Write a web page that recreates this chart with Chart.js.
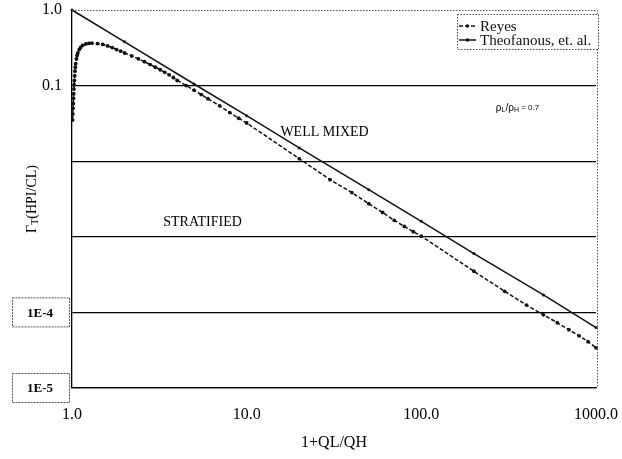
<!DOCTYPE html>
<html lang="en">
<head>
  <meta charset="UTF-8" />
  <title>Reyes vs Theofanous</title>
  <script src="https://cdn.jsdelivr.net/npm/chart.js"></script>
  <style>
    body { margin: 0; background: #fff; }
    #wrap { width: 622px; height: 459px; }
  </style>
</head>
<body>
<div id="wrap"><canvas id="chart" width="622" height="459"></canvas></div>

<script>
  // data (log-log)
  const reyesX = [1.008, 1.011, 1.014, 1.017, 1.02, 1.023, 1.026, 1.029, 1.032, 1.036, 1.04, 1.045, 1.05,
    1.06, 1.07, 1.08, 1.1, 1.12, 1.15, 1.2, 1.25, 1.3, 1.4, 1.5, 1.6, 1.7, 1.8, 1.9, 2.0,
    2.2, 2.4, 2.6, 2.8, 3.0, 3.2, 3.4, 3.6, 3.8, 4.0, 4.5, 5, 5.5, 6, 7, 8, 9, 10,
    20, 30, 40, 50, 60, 70, 80, 90, 100, 200, 300, 400, 500, 600, 700, 800, 900, 1000];
  const reyesY = [0.035, 0.042, 0.05, 0.058, 0.068, 0.078, 0.09, 0.103, 0.117, 0.135, 0.155, 0.175, 0.195,
    0.225, 0.25, 0.27, 0.3, 0.32, 0.34, 0.355, 0.362, 0.364, 0.36, 0.35, 0.335, 0.318, 0.3, 0.285, 0.27,
    0.247, 0.226, 0.207, 0.19, 0.175, 0.162, 0.15, 0.139, 0.128, 0.117, 0.1, 0.087, 0.076, 0.067, 0.054, 0.044, 0.037, 0.032,
    0.0108, 0.0057, 0.00385, 0.00274, 0.0021, 0.00165, 0.00137, 0.00117, 0.00102,
    0.00035, 0.00019, 0.000125, 0.000093, 0.000073, 0.000059, 0.000049, 0.000041, 0.000034];

  const theoX = [1, 2, 5, 10, 20, 50, 100, 200, 500, 1000];
  const theoY = [1.0, 0.38, 0.105, 0.04, 0.015, 0.0042, 0.0016, 0.0006, 0.00017, 0.000063];

  const xTicks = [1, 10, 100, 1000];
  const xTickLabels = ['1.0', '10.0', '100.0', '1000.0'];
  const yTicks = [1e-5, 1e-4, 1e-3, 1e-2, 0.1, 1];
  const yTickLabels = ['', '', '', '', '0.1', '1.0'];
  const boxedTicks = [1e-4, 1e-5];
  const boxedLabels = ['1E-4', '1E-5'];

  const serif = '"Liberation Serif", "DejaVu Serif", serif';

  // frame, boxed labels, legend, y title and notes
  const decor = {
    id: 'decor',
    afterDraw(chart) {
      const { ctx, chartArea: a, scales: { x, y } } = chart;
      ctx.save();

      // dotted top / right frame
      ctx.strokeStyle = '#555';
      ctx.lineWidth = 1;
      ctx.setLineDash([1.5, 1.5]);
      ctx.beginPath();
      ctx.moveTo(a.left, a.top + 0.5);
      ctx.lineTo(a.right + 1.5, a.top + 0.5);
      ctx.lineTo(a.right + 1.5, a.bottom);
      ctx.stroke();

      // boxed tick labels
      boxedTicks.forEach((v, i) => {
        const py = y.getPixelForValue(v);
        ctx.setLineDash([2, 1]);
        ctx.strokeStyle = '#555';
        ctx.strokeRect(12.5, py - 14.5, 57, 29);
        ctx.setLineDash([]);
        ctx.fillStyle = '#000';
        ctx.font = 'bold 13px ' + serif;
        ctx.textAlign = 'center';
        ctx.textBaseline = 'middle';
        ctx.fillText(boxedLabels[i], 40, py + 1);
      });

      // y title with subscript
      ctx.save();
      ctx.translate(32, (a.top + a.bottom) / 2);
      ctx.rotate(-Math.PI / 2);
      ctx.fillStyle = '#000';
      ctx.textBaseline = 'middle';
      ctx.textAlign = 'left';
      const p1 = 'Γ', p2 = 'T', p3 = '(HPI/CL)';
      ctx.font = '14px ' + serif;
      const w1 = ctx.measureText(p1).width;
      ctx.font = '10px ' + serif;
      const w2 = ctx.measureText(p2).width;
      ctx.font = '14px ' + serif;
      const w3 = ctx.measureText(p3).width;
      const sx = -(w1 + w2 + w3) / 2;
      ctx.fillText(p1, sx, 0);
      ctx.font = '10px ' + serif;
      ctx.fillText(p2, sx + w1, 3);
      ctx.font = '14px ' + serif;
      ctx.fillText(p3, sx + w1 + w2, 0);
      ctx.restore();

      // region notes
      ctx.fillStyle = '#000';
      ctx.textAlign = 'left';
      ctx.textBaseline = 'middle';
      ctx.font = '14px ' + serif;
      ctx.fillText('WELL MIXED', x.getPixelForValue(15.6), y.getPixelForValue(0.0243));
      ctx.fillText('STRATIFIED', x.getPixelForValue(3.33), y.getPixelForValue(0.00157));

      // density ratio note
      let nx = x.getPixelForValue(267);
      const ny = y.getPixelForValue(0.0506);
      const parts = [['ρ', 10, 0], ['L', 7, 2], ['/ρ', 10, 0], ['H', 7, 2], [' = 0.7', 8, 0]];
      parts.forEach(([t, s, dy]) => {
        ctx.font = s + 'px "Liberation Sans", Arial, sans-serif';
        ctx.fillText(t, nx, ny + dy);
        nx += ctx.measureText(t).width;
      });

      // legend box
      const lx = 457, ly = 14, lw = 141, lh = 35;
      ctx.fillStyle = '#fff';
      ctx.fillRect(lx, ly, lw, lh);
      ctx.setLineDash([1.5, 1.5]);
      ctx.strokeStyle = '#444';
      ctx.lineWidth = 1;
      ctx.strokeRect(lx + 0.5, ly + 0.5, lw, lh);
      chart.data.datasets.forEach((ds, i) => {
        const ry = ly + 12 + i * 14;
        ctx.setLineDash(ds.borderDash || []);
        ctx.strokeStyle = ds.borderColor;
        ctx.lineWidth = ds.borderWidth;
        ctx.beginPath();
        ctx.moveTo(lx + 2, ry);
        ctx.lineTo(lx + 19, ry);
        ctx.stroke();
        ctx.setLineDash([]);
        ctx.fillStyle = ds.borderColor;
        ctx.beginPath();
        ctx.arc(lx + 10.5, ry, 1.8, 0, Math.PI * 2);
        ctx.fill();
        ctx.font = '15px ' + serif;
        ctx.fillText(ds.label, lx + 23, ry + 1);
      });

      ctx.restore();
    }
  };

  const noPad = s => { s.paddingTop = 0; s.paddingBottom = 0; s.paddingLeft = 0; s.paddingRight = 0; };

  const ctx = document.getElementById('chart').getContext('2d');
  const chart = new Chart(ctx, {
    type: 'line',
    data: {
      datasets: [
        {
          label: 'Reyes',
          data: reyesX.map((v, i) => ({ x: v, y: reyesY[i] })),
          borderColor: '#111',
          backgroundColor: '#111',
          borderWidth: 1.5,
          borderDash: [4, 2],
          pointRadius: 1.9,
          pointBorderWidth: 0,
          tension: 0,
          clip: 4
        },
        {
          label: 'Theofanous, et. al.',
          data: theoX.map((v, i) => ({ x: v, y: theoY[i] })),
          borderColor: '#111',
          backgroundColor: '#111',
          borderWidth: 1.5,
          pointRadius: 1.5,
          pointBorderWidth: 0,
          tension: 0,
          clip: 4
        }
      ]
    },
    options: {
      responsive: false,
      animation: false,
      events: [],
      layout: { padding: { top: 10, right: 26, left: 0, bottom: 0 } },
      plugins: { legend: { display: false }, tooltip: { enabled: false } },
      scales: {
        x: {
          type: 'logarithmic',
          min: 1,
          max: 1000,
          afterBuildTicks: s => { s.ticks = xTicks.map(v => ({ value: v })); },
          afterFit: s => { s.height = 71; noPad(s); },
          grid: { display: false },
          border: { color: '#000', width: 1.3 },
          ticks: {
            callback: v => xTickLabels[xTicks.indexOf(v)],
            color: '#000',
            font: { family: serif, size: 16 },
            padding: 9,
            maxRotation: 0,
            autoSkip: false
          },
          title: {
            display: true,
            text: '1+QL/QH',
            color: '#000',
            font: { family: serif, size: 16 },
            padding: { top: 0, bottom: 7 }
          }
        },
        y: {
          type: 'logarithmic',
          min: 1e-5,
          max: 1,
          afterBuildTicks: s => { s.ticks = yTicks.map(v => ({ value: v })); },
          afterFit: s => { s.width = 72; noPad(s); },
          grid: {
            color: c => (c.tick && c.tick.value === 1 ? 'rgba(0,0,0,0)' : '#000'),
            lineWidth: 1.2,
            drawTicks: false
          },
          border: { color: '#000', width: 1.3 },
          ticks: {
            callback: v => yTickLabels[yTicks.indexOf(v)],
            color: '#000',
            font: { family: serif, size: 16 },
            padding: 10,
            autoSkip: false
          }
        }
      }
    },
    plugins: [decor]
  });
</script>
</body>
</html>
